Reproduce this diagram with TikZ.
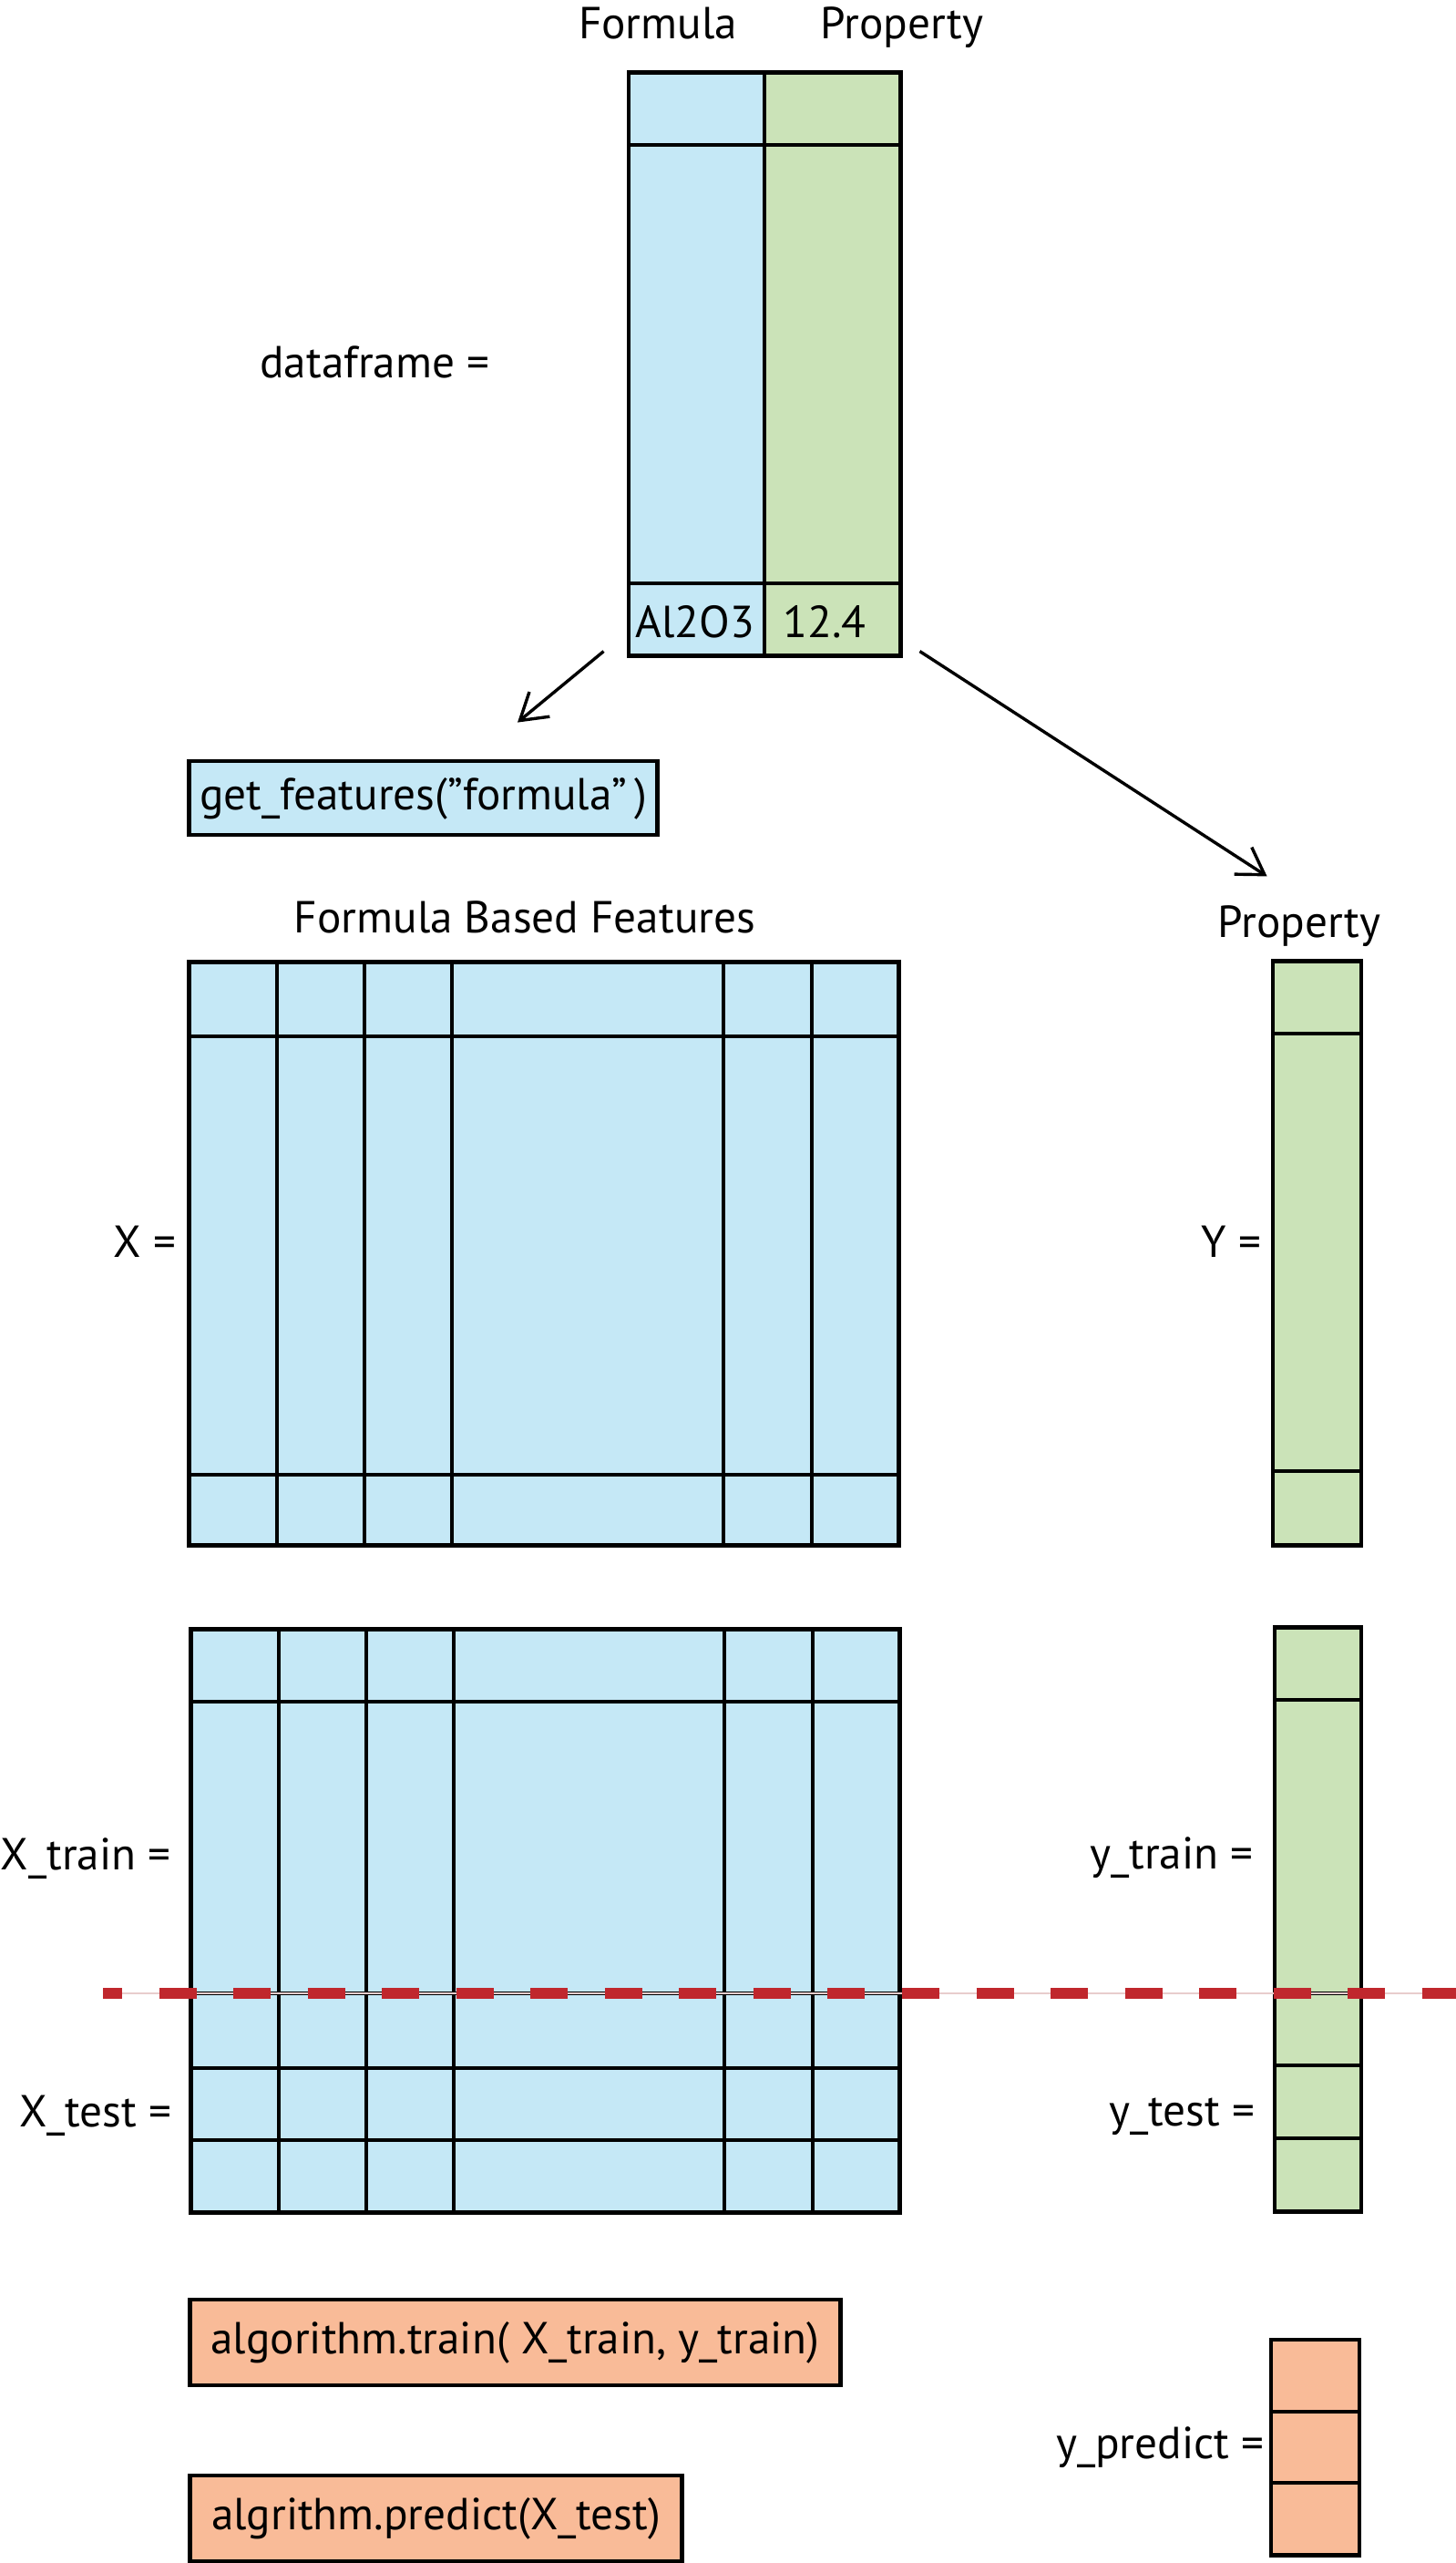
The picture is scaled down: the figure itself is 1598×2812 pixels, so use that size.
\documentclass[tikz,border=0pt]{standalone}
\usepackage{fontspec}
\setmainfont{PT Sans}
\usetikzlibrary{arrows.meta}
\definecolor{fblue}{RGB}{197,232,246}
\definecolor{fgreen}{RGB}{203,227,184}
\definecolor{forange}{RGB}{249,187,152}
\definecolor{cutred}{RGB}{192,39,45}
\definecolor{cutpink}{RGB}{232,205,205}

\begin{document}
\begin{tikzpicture}[x=0.01cm,y=-0.01cm]
\tikzstyle{tab}=[draw,line width=0.048cm,inner sep=0pt]
\tikzstyle{inln}=[line width=0.035cm]
\tikzstyle{lbl}=[inner sep=0pt,font=\fontsize{14}{17}\selectfont]
\tikzstyle{call}=[tab,lbl,text height=0.35cm,text depth=0.1cm]
\tikzstyle{arr}=[line width=0.034cm,-{Straight Barb[length=8pt,width=10pt]}]
\useasboundingbox (0,0) rectangle (1598,2812);

% dataframe
\fill[fblue] (690,80) rectangle (839,719);
\fill[fgreen] (839,80) rectangle (988,719);
\node[tab,minimum width=2.98cm,minimum height=6.39cm] (df) at (839,399.5) {};
\draw[inln] (690,159) -- (988,159);
\draw[inln] (690,640) -- (988,640);
\draw[line width=0.045cm] (839,80) -- (839,719);
\node[lbl,anchor=base] (fhead) at (722,43) {Formula};
\node[lbl,anchor=base] (phead) at (990,43) {Property};
\node[lbl,anchor=base] (al) at (763,699) {Al2O3};
\node[lbl,anchor=base] (val) at (905,699) {12.4};
\node[lbl,anchor=base east] (dflbl) at (538,414) {dataframe =};

\node[call,fill=fblue,minimum width=5.13cm,minimum height=0.81cm] (feat) at (464.5,875.5) {get\_features(”formula”\,)};

% X and Y
\node[lbl,anchor=base] (xhead) at (576,1023) {Formula Based Features};
\node[lbl,anchor=base] (yhead) at (1426,1028) {Property};
\node[tab,fill=fblue,minimum width=7.78cm,minimum height=6.39cm] (X) at (597,1375.5) {};
\draw[inln] (304,1056) -- (304,1695);
\draw[inln] (400,1056) -- (400,1695);
\draw[inln] (496,1056) -- (496,1695);
\draw[inln] (794,1056) -- (794,1695);
\draw[inln] (891,1056) -- (891,1695);
\draw[inln] (208,1137) -- (986,1137);
\draw[inln] (208,1618) -- (986,1618);
\node[lbl,anchor=base east] (xlbl) at (194,1379) {X =};
\node[tab,fill=fgreen,minimum width=0.97cm,minimum height=6.4cm] (Y) at (1445.5,1375) {};
\draw[inln] (1397,1134) -- (1494,1134);
\draw[inln] (1397,1614) -- (1494,1614);
\node[lbl,anchor=base east] (ylbl) at (1385,1379) {Y =};

% train / test split
\node[tab,fill=fblue,minimum width=7.77cm,minimum height=6.39cm] (Xs) at (598.5,2107.5) {};
\draw[inln] (306,1788) -- (306,2427);
\draw[inln] (402,1788) -- (402,2427);
\draw[inln] (498,1788) -- (498,2427);
\draw[inln] (795,1788) -- (795,2427);
\draw[inln] (892,1788) -- (892,2427);
\draw[inln] (210,1867) -- (987,1867);
\draw[inln] (210,2187) -- (987,2187);
\draw[inln] (210,2269) -- (987,2269);
\draw[inln] (210,2348) -- (987,2348);
\node[lbl,anchor=base east] (xtr) at (188,2051) {X\_train =};
\node[lbl,anchor=base east] (xte) at (189,2333) {X\_test =};
\node[tab,fill=fgreen,minimum width=0.95cm,minimum height=6.4cm] (ys) at (1446.5,2106) {};
\draw[inln] (1399,1865) -- (1494,1865);
\draw[inln] (1399,2187) -- (1494,2187);
\draw[inln] (1399,2266) -- (1494,2266);
\draw[inln] (1399,2346) -- (1494,2346);
\node[lbl,anchor=base east] (ytr) at (1376,2050) {y\_train =};
\node[lbl,anchor=base east] (yte) at (1378,2332) {y\_test =};

\coordinate (cl) at (113,2187);
\coordinate (cr) at (1598,2187);
\draw[cutpink,line width=0.02cm] (cl) -- (cr);
\draw[cutred,line width=0.12cm,dash pattern=on 0.41cm off 0.405cm,dash phase=0.2cm] (cl) -- (cr);

% training and prediction
\node[call,fill=forange,minimum width=7.13cm,minimum height=0.94cm] (train) at (565.5,2570) {algorithm.train( X\_train, y\_train)};
\node[call,fill=forange,minimum width=5.39cm,minimum height=0.94cm] (pred) at (478.5,2763) {algrithm.predict(X\_test)};
\node[tab,fill=forange,minimum width=0.97cm,minimum height=2.36cm] (yp) at (1443.5,2685) {};
\draw[inln] (1395,2646) -- (1492,2646);
\draw[inln] (1395,2724) -- (1492,2724);
\node[lbl,anchor=base east] (yplbl) at (1388,2697) {y\_predict =};

% arrows
\coordinate (dfl) at ([shift={(-25,-7)}]df.south west);
\coordinate (featn) at ([shift={(103.5,-40)}]feat.north);
\coordinate (dfr) at ([shift={(19,-7)}]df.south east);
\coordinate (yn) at ([shift={(-4,-91)}]Y.north west);
\draw[arr] (dfl) -- (featn);
\draw[arr] (dfr) -- (yn);
\end{tikzpicture}
\end{document}
